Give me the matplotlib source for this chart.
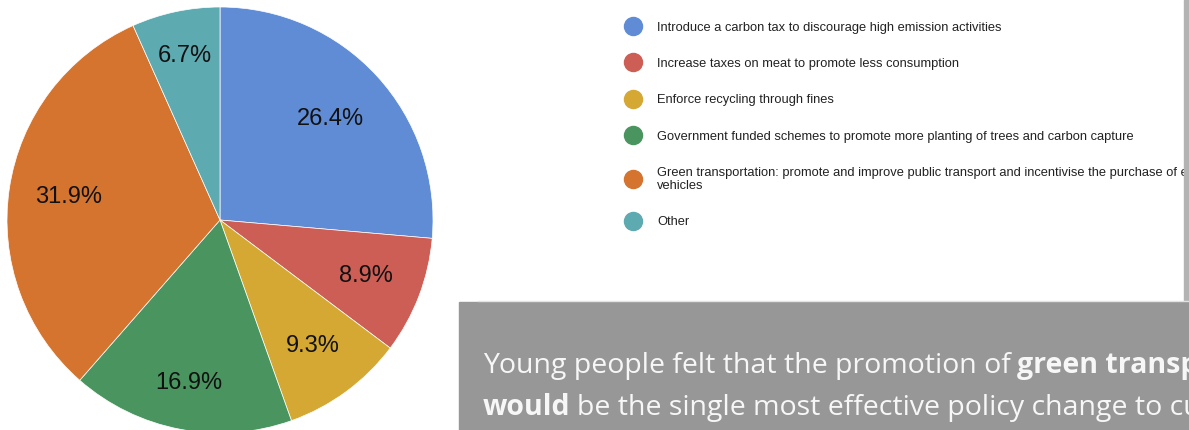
import matplotlib
matplotlib.use('Agg')
import numpy as np
import matplotlib.pyplot as plt
from matplotlib.lines import Line2D
from matplotlib.patches import Rectangle

# survey answers: preferred policy change
policies = [
    'Introduce a carbon tax to discourage high emission activities',
    'Increase taxes on meat to promote less consumption',
    'Enforce recycling through fines',
    'Government funded schemes to promote more planting of trees and carbon capture',
    'Green transportation: promote and improve public transport and incentivise the purchase of electric\nvehicles',
    'Other',
]
shares = [26.4, 8.9, 9.3, 16.9, 31.9, 6.7]
colors = ['#5f8cd5', '#cc5e56', '#d4a832', '#4a955f', '#d5742e', '#5eaab1']

# radial position of each percentage label (fraction of radius)
label_r = [0.704, 0.734, 0.735, 0.778, 0.72, 0.787]

W, H = 1189, 430
fig = plt.figure(figsize=(W / 100, H / 100), dpi=100)

# pie, clockwise from 12 o'clock
ax = fig.add_axes([7 / W, -3 / H, 426 / W, 426 / H])
labels_iter = iter(shares)
wedges, _, pcts = ax.pie(shares, colors=colors, startangle=90, counterclock=False,
                         autopct=lambda p: f'{next(labels_iter):.1f}%',
                         wedgeprops=dict(edgecolor='white', linewidth=0.5),
                         textprops=dict(fontsize=17, family='Liberation Sans', color='#111111'))
for w, t, r in zip(wedges, pcts, label_r):
    mid = np.deg2rad((w.theta1 + w.theta2) / 2)
    t.set_position((r * np.cos(mid), r * np.sin(mid)))
ax.set_xlim(-1, 1)
ax.set_ylim(-1, 1)

# overlay in pixel units for legend and the note box
ov = fig.add_axes([0, 0, 1, 1])
ov.set_xlim(0, W)
ov.set_ylim(H, 0)
ov.set_axis_off()

handles = [Line2D([], [], ls='', marker='o', ms=13, mfc=c, mec=c) for c in colors]
leg = ov.legend(handles, policies, loc='upper left', bbox_to_anchor=(627, 21.5),
                bbox_transform=ov.transData, frameon=False,
                prop=dict(family='Liberation Sans', size=9.3),
                labelspacing=1.88, handlelength=1.0, handletextpad=1.35,
                borderpad=0, borderaxespad=0, labelcolor='#222222')
for t in leg.get_texts():
    t.set_linespacing(1.12)

# grey strip on the right edge
ov.add_patch(Rectangle((1184, 0), 5, 302, color='#b3b3b3', zorder=6))

# note box
ov.add_patch(Rectangle((459, 302), W - 459, H - 302, color='#979797', zorder=6))
ov.plot([478, W], [301, 301], color='#e2e2e2', lw=1, zorder=6)

note = dict(family='Open Sans', size=20.5, color='#f7f7f7', zorder=7)
t1 = ov.text(483, 373, 'Young people felt that the promotion of', va='baseline', **note)
ov.annotate('green transportation', xy=(1, 0), xycoords=t1, xytext=(4.5, 0),
            textcoords='offset points', va='bottom', ha='left', fontweight='bold', **note)
t2 = ov.text(483, 415, 'would', va='baseline', fontweight='bold', **note)
ov.annotate('be the single most effective policy change to curb carbon emissions',
            xy=(1, 0), xycoords=t2, xytext=(4.5, 0), textcoords='offset points',
            va='bottom', ha='left', **note)

fig.savefig('out.png', dpi=100)
